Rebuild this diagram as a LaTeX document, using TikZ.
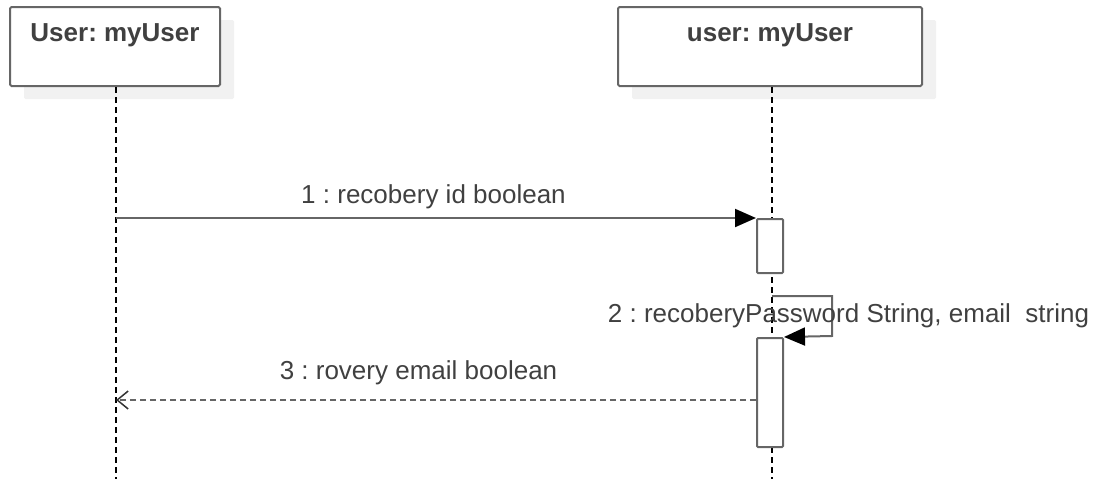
\documentclass[tikz,border=0pt]{standalone}
\usepackage{fontspec}
\setmainfont{Liberation Sans}
\usetikzlibrary{positioning,arrows.meta,shadows}

\definecolor{linegray}{HTML}{666666}
\definecolor{textgray}{HTML}{404040}
\definecolor{shadowgray}{HTML}{F1F1F1}

\tikzset{
    obj/.style={draw=linegray, line width=2pt, fill=white, rounded corners=1.5pt,
        minimum height=79pt,
        general shadow={fill=shadowgray, draw=none, shadow xshift=14pt, shadow yshift=-13pt}},
    objtext/.style={font=\fontsize{26}{30}\selectfont\bfseries, text=textgray},
    lifeline/.style={draw=black, line width=1.5pt, dash pattern=on 6pt off 4pt},
    act/.style={draw=linegray, line width=2pt, fill=white, rounded corners=1pt,
        minimum width=26pt, inner sep=0pt, anchor=north},
    msg/.style={draw=linegray, line width=2pt,
        -{Triangle[length=21pt,width=18pt,color=black,fill=black]}},
    reply/.style={draw=linegray, line width=2pt, dash pattern=on 6pt off 4pt,
        -{Straight Barb[length=11pt,width=18pt,line width=1.5pt,color=black!80]}},
    msgtext/.style={font=\fontsize{26}{30}\selectfont, text=textgray, anchor=base}
}

\begin{document}
\frenchspacing
\begin{tikzpicture}[x=1pt,y=-1pt]
    \useasboundingbox (0,0) rectangle (1096,479);

    % Lifeline heads
    \node[obj, minimum width=210pt] (objA) at (115,46.5) {};
    \node[obj, minimum width=304pt] (objB) at (770,46.5) {};
    \node[objtext] (labA) at (115,35) {User: myUser};
    \node[objtext] (labB) at (770,35) {user: myUser};

    % Lifelines
    \coordinate (endA) at (116,479);
    \coordinate (endB) at (772,479);
    \draw[lifeline] (objA.south -| endA) -- (endA);
    \draw[lifeline] (objB.south -| endB) -- (endB);

    % Activation bars
    \node[act, minimum height=54pt] (actB1) at (770,218) {};
    \node[act, minimum height=109pt] (actB2) at (770,337) {};

    % 1 : call
    \draw[msg] (endA |- actB1.north west) -- (actB1.north west);
    \node[msgtext] (m1) at (433.5,203) {1 : recobery id boolean};

    % 2 : self call
    \coordinate (selfA) at (772,296);
    \coordinate (selfB) at (832,296);
    \coordinate (selfC) at (832,336);
    \draw[msg] (selfA) -- (selfB) -- (selfC) -- (actB2.north east);
    \node[msgtext] (m2) at (848.5,322) {2 : recoberyPassword String, email~ string};

    % 3 : return
    \coordinate (retEnd) at (116,400);
    \draw[reply] (actB2.west |- retEnd) -- (retEnd);
    \node[msgtext] (m3) at (418.5,379) {3 : rovery email boolean};
\end{tikzpicture}
\end{document}
